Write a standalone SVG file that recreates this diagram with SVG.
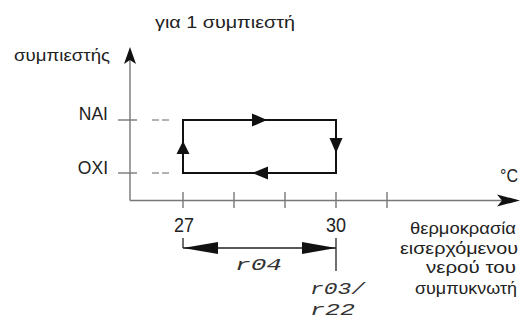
<svg xmlns="http://www.w3.org/2000/svg" width="526" height="320" viewBox="0 0 526 320">
<style>
text{font-family:"Liberation Sans",Arial,sans-serif;fill:#222}
.lbl{font-size:16.5px}
.big{font-size:17.5px}
.num{font-size:20px;text-anchor:middle}
.seg{font-family:"Liberation Mono","DejaVu Sans Mono",monospace;font-style:italic;font-size:17px;fill:#333}
.axis{stroke:#777;stroke-width:1.4;fill:none}
.dash{stroke:#888;stroke-width:1.3;fill:none}
.loop{stroke:#111;stroke-width:2;fill:none}
.dim{stroke:#222;stroke-width:1.3;fill:none}
.head{fill:#111;stroke:none}
</style>
<rect width="526" height="320" fill="#fff"/>
<g id="title"><text class="lbl" x="155" y="28" textLength="140" lengthAdjust="spacingAndGlyphs">για 1 συμπιεστή</text></g>
<g id="y-axis">
<line class="axis" x1="130" y1="58" x2="130" y2="200.5"/>
<path class="head" d="M130,47 L136,64 L130,60 L124,64 Z"/>
<text class="lbl" x="14" y="61" textLength="96" lengthAdjust="spacingAndGlyphs">συμπιεστής</text>
<line class="axis" x1="118" y1="120" x2="137" y2="120"/>
<line class="axis" x1="118" y1="173" x2="137" y2="173"/>
<text class="big" x="108" y="120" text-anchor="end">NAI</text>
<text class="big" x="108" y="174" text-anchor="end">OXI</text>
</g>
<g id="x-axis">
<line class="axis" x1="130" y1="200.5" x2="505" y2="200.5"/>
<path class="head" d="M520,200.5 L497,194.5 L502,200.5 L497,206.5 Z"/>
<line class="axis" x1="183" y1="192" x2="183" y2="208"/>
<line class="axis" x1="234" y1="192" x2="234" y2="208"/>
<line class="axis" x1="285" y1="192" x2="285" y2="208"/>
<line class="axis" x1="336" y1="192" x2="336" y2="208"/>
<line class="axis" x1="387" y1="192" x2="387" y2="208"/>
<text x="518" y="182" font-size="18" text-anchor="end" textLength="18" lengthAdjust="spacingAndGlyphs">°C</text>
<text class="num" x="184" y="231.5" textLength="20" lengthAdjust="spacingAndGlyphs">27</text>
<text class="num" x="336" y="231.5" textLength="20" lengthAdjust="spacingAndGlyphs">30</text>
<text class="lbl" x="410" y="234" textLength="106" lengthAdjust="spacingAndGlyphs">θερμοκρασία</text>
<text class="lbl" x="400" y="254" textLength="118" lengthAdjust="spacingAndGlyphs">εισερχόμενου</text>
<text class="lbl" x="426" y="273" textLength="90" lengthAdjust="spacingAndGlyphs">νερού του</text>
<text class="lbl" x="415" y="294" textLength="102" lengthAdjust="spacingAndGlyphs">συμπυκνωτή</text>
</g>
<g id="hysteresis-loop">
<line class="dash" x1="152" y1="120" x2="159" y2="120"/>
<line class="dash" x1="162" y1="120" x2="169" y2="120"/>
<line class="dash" x1="152" y1="173" x2="159" y2="173"/>
<line class="dash" x1="162" y1="173" x2="169" y2="173"/>
<rect class="loop" x="183" y="120" width="153" height="53"/>
<path class="head" d="M267,120 L252,113.5 L252,126.5 Z"/>
<path class="head" d="M336,153 L329.5,138 L342.5,138 Z"/>
<path class="head" d="M252,173 L268,166.5 L268,179.5 Z"/>
<path class="head" d="M183,141 L176.5,154 L189.5,154 Z"/>
</g>
<g id="connectors">
<line class="dim" x1="183" y1="238" x2="183" y2="248"/>
<line class="dim" x1="336" y1="238" x2="336" y2="271"/>
<line class="dim" x1="183" y1="248" x2="336" y2="248"/>
<path class="head" d="M183,248 L218,242 L218,254 Z"/>
<path class="head" d="M336,248 L302,242 L302,254 Z"/>
</g>
<g id="params">
<text class="seg" x="235" y="270" textLength="47" lengthAdjust="spacingAndGlyphs">r04</text>
<text class="seg" x="310" y="294" textLength="55" lengthAdjust="spacingAndGlyphs">r03/</text>
<text class="seg" x="310" y="315" textLength="45" lengthAdjust="spacingAndGlyphs">r22</text>
</g>
</svg>
